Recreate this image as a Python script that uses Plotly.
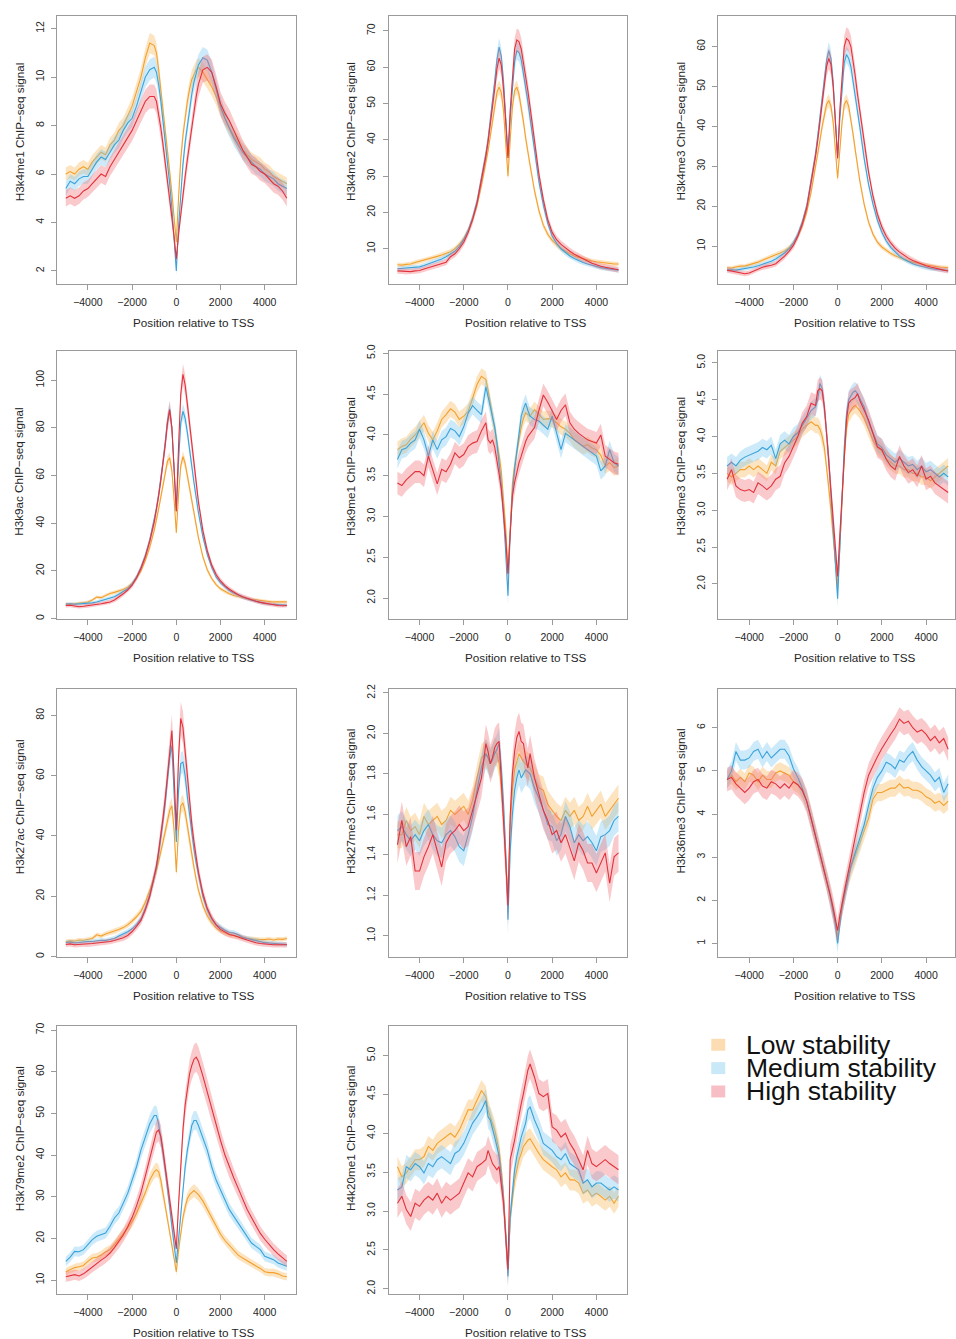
import plotly.graph_objects as go

# ---------------- positions relative to TSS (bp) ----------------
X = list(range(-5000, -1000, 200)) + list(range(-1000, 1001, 100)) + list(range(1200, 5001, 200))

SERIES_NAMES = ["Low stability", "Medium stability", "High stability"]

# ---------------- H3k4me1 ----------------
H3K4ME1_LOW = [6.0, 6.1, 6.0, 6.2, 6.3, 6.2, 6.5, 6.7, 6.9, 6.8, 7.2, 7.4, 7.8, 8.0, 8.4, 8.8, 9.4, 10.0, 10.8, 11.4,
               11.3, 11.0, 10.3, 9.5, 8.6, 7.8, 7.0, 6.1, 5.2, 4.2, 3.2, 5.0, 6.6, 7.6, 8.4, 9.0, 9.5, 9.9, 10.1, 10.3, 10.4,
               10.2, 9.9, 9.6, 9.2, 8.7, 8.3, 7.9, 7.6, 7.3, 7.0, 6.8, 6.6, 6.5, 6.4, 6.2, 6.1, 5.9, 5.8, 5.7, 5.6]
H3K4ME1_MED = [5.4, 5.7, 5.6, 5.8, 5.9, 5.9, 6.2, 6.5, 6.7, 6.6, 6.9, 7.2, 7.4, 7.8, 8.1, 8.3, 8.8, 9.4, 10.0, 10.3,
               10.4, 10.2, 9.7, 9.0, 8.2, 7.4, 6.5, 5.6, 4.6, 3.4, 2.0, 3.8, 5.3, 6.4, 7.3, 8.0, 8.7, 9.3, 9.8, 10.2, 10.5,
               10.8, 10.7, 10.2, 9.5, 8.8, 8.3, 7.9, 7.5, 7.2, 6.9, 6.7, 6.5, 6.3, 6.2, 6.0, 5.9, 5.8, 5.6, 5.5, 5.4]
H3K4ME1_HIGH = [5.0, 5.1, 5.0, 5.1, 5.3, 5.4, 5.6, 5.8, 6.0, 5.9, 6.3, 6.6, 6.9, 7.2, 7.5, 7.8, 8.2, 8.6, 9.0, 9.2,
                9.2, 9.0, 8.5, 7.9, 7.2, 6.5, 5.8, 5.0, 4.2, 3.4, 2.5, 3.5, 4.4, 5.2, 5.9, 6.6, 7.3, 8.0, 8.7, 9.2, 9.7,
                10.3, 10.4, 10.2, 9.6, 8.9, 8.5, 8.2, 7.8, 7.4, 7.0, 6.7, 6.4, 6.3, 6.1, 6.0, 5.8, 5.6, 5.5, 5.3, 5.0]

# ---------------- H3k4me2 ----------------
H3K4ME2_LOW = [5.6, 5.5, 5.7, 5.8, 6.2, 6.5, 6.8, 7.2, 7.5, 7.9, 8.3, 8.7, 9.2, 10.0, 11.2, 12.8, 15.0, 18.0, 22.0, 27.5,
               33.5, 37.0, 41.0, 45.0, 49.0, 53.0, 54.5, 53.0, 48.0, 39.0, 30.0, 40.0, 49.0, 53.5, 54.5, 52.5, 49.0, 45.0, 40.5, 36.5, 33.0,
               26.0, 20.5, 16.5, 14.0, 12.3, 11.0, 10.0, 9.3, 8.6, 8.0, 7.6, 7.2, 6.9, 6.6, 6.4, 6.2, 6.0, 5.9, 5.8, 5.8]
H3K4ME2_MED = [4.5, 4.6, 4.8, 4.9, 5.0, 5.0, 5.4, 5.8, 6.2, 6.7, 7.2, 7.8, 8.5, 9.3, 10.6, 12.5, 15.0, 18.5, 23.0, 29.0,
               36.0, 40.0, 45.0, 50.0, 56.0, 62.0, 65.5, 63.0, 56.0, 46.0, 35.5, 46.0, 55.0, 61.5, 64.5, 64.0, 62.0, 58.5, 55.0, 50.5, 46.0,
               37.0, 28.5, 22.0, 17.0, 13.5, 11.5, 10.0, 8.9, 8.0, 7.3, 6.7, 6.2, 5.8, 5.4, 5.1, 4.8, 4.6, 4.4, 4.2, 4.1]
H3K4ME2_HIGH = [3.9, 3.8, 3.7, 3.7, 3.9, 4.0, 4.4, 4.8, 5.2, 5.5, 5.8, 6.3, 7.8, 8.6, 10.0, 11.8, 14.5, 18.0, 22.5, 28.5,
                35.5, 39.5, 44.0, 49.0, 54.0, 59.5, 62.5, 60.5, 54.0, 45.0, 35.0, 48.0, 58.0, 65.0, 67.5, 67.0, 65.0, 61.5, 58.0, 53.5, 49.0,
                39.5, 30.5, 23.5, 18.0, 14.5, 12.5, 11.2, 10.2, 9.3, 8.5, 7.8, 7.2, 6.6, 6.0, 5.5, 5.2, 4.9, 4.6, 4.4, 4.2]

# ---------------- H3k4me3 ----------------
H3K4ME3_LOW = [4.6, 4.5, 4.8, 5.0, 5.0, 5.3, 5.6, 6.0, 6.5, 7.0, 7.5, 7.8, 8.3, 8.8, 9.6, 10.8, 12.5, 15.0, 18.5, 23.5,
               29.5, 33.0, 36.5, 40.0, 43.0, 45.5, 46.5, 45.0, 41.0, 34.0, 27.0, 34.0, 41.0, 45.5, 46.5, 45.0, 42.0, 38.0, 34.0, 30.0, 26.5,
               20.5, 16.0, 13.0, 11.0, 9.8, 8.9, 8.2, 7.6, 7.1, 6.7, 6.3, 6.0, 5.7, 5.5, 5.3, 5.1, 4.9, 4.8, 4.7, 4.6]
H3K4ME3_MED = [4.0, 4.1, 4.0, 4.2, 4.4, 4.5, 4.8, 5.1, 5.5, 5.9, 6.2, 6.8, 7.5, 8.3, 9.3, 10.8, 13.0, 16.0, 20.0, 26.0,
               33.0, 37.5, 42.0, 47.0, 52.0, 56.5, 59.0, 57.0, 51.0, 42.0, 32.0, 42.0, 50.0, 56.0, 58.0, 57.0, 55.0, 51.5, 48.0, 44.0, 40.0,
               32.0, 25.5, 20.5, 16.5, 13.5, 11.3, 9.7, 8.5, 7.5, 6.7, 6.1, 5.6, 5.2, 4.9, 4.6, 4.4, 4.2, 4.1, 4.0, 3.9]
H3K4ME3_HIGH = [4.0, 3.8, 3.6, 3.3, 3.1, 3.3, 3.8, 4.3, 4.7, 5.0, 5.2, 5.6, 6.5, 7.5, 8.7, 10.2, 12.5, 15.5, 19.5, 25.5,
                32.5, 36.5, 41.0, 46.0, 50.5, 55.0, 57.0, 55.5, 50.0, 41.5, 32.0, 44.0, 53.0, 60.0, 62.0, 61.5, 60.0, 56.5, 52.5, 48.0, 44.0,
                35.5, 28.5, 22.5, 18.0, 14.8, 12.5, 10.8, 9.5, 8.5, 7.7, 7.0, 6.4, 5.9, 5.4, 5.1, 4.8, 4.5, 4.2, 4.0, 3.8]

# ---------------- H3k9ac ----------------
H3K9AC_LOW = [6.2, 6.0, 6.2, 6.5, 6.8, 7.0, 7.8, 9.0, 8.8, 9.8, 10.5, 11.0, 11.5, 12.2, 13.2, 14.8, 17.0, 20.0, 24.5, 30.0,
              37.0, 41.0, 46.0, 51.0, 56.0, 61.5, 66.0, 67.5, 62.0, 50.0, 36.0, 52.0, 64.0, 68.0, 65.0, 60.0, 55.0, 49.0, 44.0, 38.5, 34.0,
              26.0, 20.5, 16.8, 14.3, 12.5, 11.3, 10.4, 9.7, 9.2, 8.8, 8.4, 8.1, 7.8, 7.5, 7.3, 7.2, 7.0, 7.0, 6.9, 7.0]
H3K9AC_MED = [6.0, 6.2, 6.0, 6.1, 6.3, 6.2, 6.6, 7.0, 7.5, 8.0, 8.5, 9.2, 10.2, 11.2, 12.5, 14.5, 17.5, 21.5, 26.5, 33.0,
              41.0, 46.0, 52.0, 58.0, 66.0, 74.0, 83.0, 88.0, 80.0, 63.0, 45.0, 66.0, 82.0, 87.0, 84.0, 78.0, 72.0, 64.0, 57.0, 50.0, 44.5,
              34.5, 27.0, 21.5, 17.5, 15.0, 13.2, 11.8, 10.7, 9.8, 9.0, 8.3, 7.7, 7.2, 6.8, 6.4, 6.1, 5.9, 5.8, 5.7, 5.6]
H3K9AC_HIGH = [5.5, 5.6, 5.3, 5.0, 5.2, 5.4, 5.7, 5.9, 6.2, 6.6, 7.0, 7.8, 9.0, 10.4, 12.0, 14.0, 17.0, 21.0, 26.0, 32.5,
               40.5, 45.5, 51.5, 58.0, 65.0, 73.0, 82.0, 87.5, 80.0, 63.0, 45.0, 72.0, 94.0, 102.5, 98.0, 90.0, 82.0, 72.0, 64.0, 56.0, 49.0,
               37.0, 28.5, 22.5, 18.5, 15.8, 13.8, 12.3, 11.0, 10.0, 9.2, 8.5, 7.9, 7.3, 6.8, 6.4, 6.0, 5.8, 5.5, 5.4, 5.5]

# ---------------- H3k9me1 ----------------
H3K9ME1_LOW = [3.82, 3.86, 3.88, 3.95, 4.00, 4.07, 4.15, 4.02, 3.94, 4.05, 4.19, 4.25, 4.32, 4.28, 4.19, 4.23, 4.29, 4.45, 4.62, 4.72,
               4.68, 4.55, 4.40, 4.20, 4.05, 3.92, 3.75, 3.55, 3.25, 2.85, 2.30, 2.95, 3.40, 3.62, 3.80, 3.95, 4.10, 4.20, 4.27, 4.25, 4.23,
               4.31, 4.25, 4.19, 4.20, 4.19, 4.15, 4.10, 4.07, 4.02, 3.94, 3.90, 3.86, 3.88, 3.84, 3.82, 3.75, 3.62, 3.66, 3.60, 3.62]
H3K9ME1_MED = [3.70, 3.82, 3.84, 3.90, 3.94, 4.07, 3.94, 3.74, 3.94, 3.82, 3.94, 3.98, 4.08, 4.05, 3.98, 4.10, 4.27, 4.36, 4.30, 4.25,
               4.59, 4.45, 4.35, 4.22, 4.10, 3.90, 3.66, 3.38, 3.05, 2.60, 2.03, 2.80, 3.29, 3.58, 3.82, 4.05, 4.23, 4.32, 4.39, 4.30, 4.23,
               4.19, 4.17, 4.12, 4.07, 4.23, 4.02, 3.82, 4.02, 3.98, 3.94, 3.90, 3.86, 3.82, 3.78, 3.74, 3.56, 3.62, 3.82, 3.66, 3.62]
H3K9ME1_HIGH = [3.41, 3.38, 3.45, 3.50, 3.55, 3.55, 3.50, 3.74, 3.58, 3.40, 3.58, 3.55, 3.64, 3.78, 3.72, 3.76, 3.86, 3.90, 3.92, 4.05,
                4.15, 3.94, 3.90, 3.94, 3.85, 3.70, 3.52, 3.33, 3.05, 2.72, 2.30, 2.85, 3.25, 3.42, 3.56, 3.66, 3.74, 3.84, 3.92, 3.98, 4.02,
                4.09, 4.30, 4.49, 4.40, 4.29, 4.19, 4.30, 4.37, 4.15, 4.07, 4.02, 3.98, 3.94, 3.92, 3.90, 4.00, 3.74, 3.70, 3.66, 3.64]

# ---------------- H3k9me3 ----------------
H3K9ME3_LOW = [3.50, 3.45, 3.50, 3.55, 3.55, 3.60, 3.55, 3.60, 3.55, 3.50, 3.65, 3.60, 3.80, 3.85, 3.90, 3.95, 4.00, 4.10, 4.15, 4.20,
               4.15, 4.15, 4.10, 4.00, 3.85, 3.60, 3.30, 3.00, 2.65, 2.30, 1.95, 2.50, 3.15, 3.70, 4.10, 4.30, 4.35, 4.40, 4.42, 4.38, 4.35,
               4.25, 4.10, 3.95, 3.85, 3.80, 3.70, 3.65, 3.60, 3.60, 3.55, 3.55, 3.50, 3.50, 3.45, 3.45, 3.40, 3.45, 3.50, 3.55, 3.60]
H3K9ME3_MED = [3.60, 3.65, 3.60, 3.68, 3.72, 3.75, 3.78, 3.80, 3.85, 3.82, 3.88, 3.70, 3.90, 3.95, 3.90, 4.00, 4.05, 4.15, 4.25, 4.35,
               4.40, 4.50, 4.72, 4.65, 4.40, 4.10, 3.70, 3.20, 2.75, 2.30, 1.80, 2.50, 3.20, 3.85, 4.30, 4.50, 4.55, 4.60, 4.62, 4.58, 4.52,
               4.40, 4.20, 4.05, 3.90, 3.85, 3.75, 3.70, 3.65, 3.70, 3.65, 3.60, 3.62, 3.55, 3.60, 3.52, 3.55, 3.50, 3.45, 3.50, 3.45]
H3K9ME3_HIGH = [3.42, 3.55, 3.33, 3.28, 3.26, 3.28, 3.24, 3.37, 3.33, 3.28, 3.33, 3.42, 3.46, 3.64, 3.73, 3.86, 4.00, 4.18, 4.27, 4.45,
                4.42, 4.62, 4.65, 4.62, 4.40, 4.04, 3.64, 3.19, 2.79, 2.43, 2.10, 2.66, 3.24, 3.82, 4.22, 4.45, 4.49, 4.51, 4.53, 4.58, 4.49,
                4.36, 4.22, 4.04, 3.86, 3.82, 3.69, 3.60, 3.55, 3.73, 3.60, 3.51, 3.55, 3.46, 3.60, 3.42, 3.46, 3.37, 3.33, 3.28, 3.24]

# ---------------- H3k27ac ----------------
H3K27AC_LOW = [5.0, 5.2, 5.1, 5.5, 5.4, 5.6, 6.0, 7.2, 6.8, 7.5, 8.0, 8.3, 9.0, 9.6, 10.5, 11.8, 13.2, 15.0, 18.0, 22.0,
               26.0, 28.5, 31.5, 34.5, 38.0, 41.5, 45.0, 48.5, 50.0, 42.0, 28.0, 42.0, 50.0, 51.0, 48.0, 43.0, 38.0, 33.5, 29.5, 25.5, 22.0,
               17.0, 13.5, 11.2, 9.5, 8.5, 7.8, 7.2, 7.0, 6.6, 6.4, 6.0, 5.9, 5.7, 5.6, 5.6, 5.8, 5.5, 5.8, 5.7, 6.0]
H3K27AC_MED = [4.6, 4.8, 4.5, 4.7, 4.8, 5.0, 5.0, 5.2, 5.4, 5.3, 5.6, 6.0, 6.8, 7.4, 8.2, 9.2, 10.6, 12.5, 16.0, 20.5,
               26.0, 29.5, 34.0, 39.0, 45.0, 51.0, 58.0, 66.0, 70.0, 55.0, 38.0, 55.0, 64.0, 64.5, 60.0, 53.0, 46.5, 41.0, 35.5, 31.0, 27.0,
               20.0, 15.5, 12.5, 10.6, 9.5, 8.7, 8.0, 7.8, 7.2, 6.4, 6.0, 5.6, 5.2, 4.9, 4.6, 4.5, 4.4, 4.2, 4.1, 4.0]
H3K27AC_HIGH = [4.0, 4.2, 3.9, 4.0, 4.1, 4.0, 4.3, 4.5, 4.6, 4.8, 5.0, 5.3, 5.8, 6.2, 7.0, 8.3, 10.0, 12.0, 15.5, 20.0,
                26.5, 30.0, 35.0, 40.0, 46.0, 52.5, 60.0, 70.0, 75.0, 60.0, 42.0, 66.0, 79.0, 76.0, 68.0, 59.0, 51.0, 44.0, 38.0, 32.5, 28.0,
                21.0, 16.0, 12.8, 10.5, 9.0, 8.0, 7.3, 7.0, 6.6, 6.0, 5.5, 5.0, 4.6, 4.3, 4.1, 4.0, 3.9, 3.9, 3.8, 3.9]

# ---------------- H3k27me3 ----------------
H3K27ME3_LOW = [1.50, 1.50, 1.57, 1.52, 1.54, 1.50, 1.59, 1.55, 1.57, 1.59, 1.55, 1.57, 1.62, 1.60, 1.62, 1.64, 1.60, 1.67, 1.78, 1.88,
                1.90, 1.88, 1.85, 1.88, 1.91, 1.90, 1.85, 1.73, 1.59, 1.36, 1.20, 1.54, 1.72, 1.82, 1.86, 1.90, 1.88, 1.86, 1.85, 1.84, 1.83,
                1.78, 1.73, 1.72, 1.65, 1.62, 1.59, 1.57, 1.62, 1.59, 1.62, 1.57, 1.59, 1.64, 1.59, 1.62, 1.65, 1.59, 1.62, 1.65, 1.68]
H3K27ME3_MED = [1.52, 1.54, 1.50, 1.47, 1.50, 1.47, 1.52, 1.55, 1.50, 1.47, 1.46, 1.50, 1.52, 1.49, 1.44, 1.42, 1.50, 1.59, 1.72, 1.83,
                1.90, 1.88, 1.85, 1.87, 1.90, 1.92, 1.95, 1.83, 1.65, 1.41, 1.08, 1.42, 1.60, 1.72, 1.78, 1.82, 1.78, 1.80, 1.82, 1.81, 1.80,
                1.73, 1.68, 1.62, 1.55, 1.54, 1.47, 1.50, 1.59, 1.54, 1.46, 1.50, 1.47, 1.49, 1.46, 1.42, 1.49, 1.50, 1.52, 1.57, 1.59]
H3K27ME3_HIGH = [1.45, 1.57, 1.44, 1.49, 1.32, 1.32, 1.39, 1.44, 1.50, 1.42, 1.34, 1.46, 1.50, 1.52, 1.55, 1.52, 1.54, 1.62, 1.70, 1.78,
                 1.95, 1.91, 1.85, 1.88, 1.93, 1.95, 1.96, 1.78, 1.59, 1.37, 1.15, 1.59, 1.80, 1.91, 1.98, 2.01, 1.96, 1.95, 1.88, 1.83, 1.90,
                 1.78, 1.70, 1.62, 1.57, 1.50, 1.52, 1.46, 1.50, 1.44, 1.37, 1.46, 1.42, 1.36, 1.36, 1.31, 1.36, 1.41, 1.26, 1.39, 1.41]

# ---------------- H3k36me3 ----------------
H3K36ME3_LOW = [4.80, 4.90, 4.75, 4.85, 4.75, 4.95, 4.90, 4.75, 4.90, 4.80, 4.80, 4.95, 5.00, 4.95, 4.90, 4.75, 4.68, 4.55, 4.30, 3.90,
                3.50, 3.30, 3.10, 2.90, 2.70, 2.48, 2.25, 2.02, 1.78, 1.50, 1.15, 1.55, 1.85, 2.10, 2.35, 2.55, 2.75, 2.90, 3.00, 3.15, 3.30,
                3.60, 3.90, 4.35, 4.50, 4.50, 4.55, 4.60, 4.60, 4.70, 4.60, 4.62, 4.55, 4.55, 4.50, 4.40, 4.35, 4.25, 4.30, 4.20, 4.30]
H3K36ME3_MED = [4.80, 5.00, 5.45, 5.25, 5.25, 5.30, 5.45, 5.50, 5.30, 5.45, 5.30, 5.40, 5.50, 5.50, 5.35, 5.05, 4.85, 4.60, 4.30, 3.90,
                3.50, 3.30, 3.10, 2.90, 2.70, 2.48, 2.25, 2.00, 1.75, 1.45, 1.00, 1.50, 1.85, 2.10, 2.35, 2.55, 2.80, 2.95, 3.10, 3.25, 3.40,
                3.75, 4.20, 4.60, 4.85, 5.00, 5.20, 5.15, 5.05, 5.25, 5.20, 5.35, 5.45, 5.25, 5.10, 5.00, 4.90, 4.75, 4.85, 4.50, 4.70]
H3K36ME3_HIGH = [4.80, 4.85, 4.70, 4.60, 4.50, 4.60, 4.75, 4.80, 4.65, 4.60, 4.75, 4.70, 4.60, 4.70, 4.60, 4.75, 4.68, 4.55, 4.30, 3.90,
                 3.50, 3.30, 3.10, 2.90, 2.70, 2.50, 2.28, 2.05, 1.82, 1.55, 1.30, 1.65, 1.95, 2.20, 2.45, 2.70, 2.95, 3.20, 3.45, 3.70, 3.95,
                 4.50, 4.90, 5.13, 5.33, 5.52, 5.70, 5.85, 6.00, 6.20, 6.10, 6.15, 6.00, 5.90, 5.95, 5.85, 5.70, 5.80, 5.65, 5.75, 5.50]

# ---------------- H3k79me2 ----------------
H3K79ME2_LOW = [12.0, 12.5, 13.0, 13.2, 13.5, 14.5, 15.3, 15.5, 16.0, 16.8, 17.3, 18.5, 19.8, 21.0, 22.5, 24.0, 26.0, 28.5, 31.0, 34.0,
                36.0, 36.5, 36.0, 34.0, 31.0, 28.0, 25.0, 22.0, 19.0, 15.5, 12.0, 17.0, 21.5, 25.0, 27.5, 29.5, 30.5, 31.0, 31.5, 31.0, 30.5,
                29.0, 27.0, 25.0, 23.0, 21.0, 19.5, 18.3, 17.0, 16.0, 15.3, 14.6, 14.0, 13.4, 12.8, 12.0, 11.8, 11.8, 11.5, 11.0, 10.8]
H3K79ME2_MED = [14.5, 15.5, 16.9, 16.8, 17.3, 18.5, 19.7, 20.5, 20.9, 21.3, 22.9, 24.9, 26.1, 28.4, 30.8, 34.0, 37.2, 41.2, 44.3, 47.5,
                49.5, 49.5, 47.5, 44.3, 40.4, 36.4, 32.4, 27.6, 22.9, 18.1, 14.1, 19.7, 26.1, 32.4, 37.2, 41.2, 44.3, 47.1, 48.3, 48.3, 47.1,
                44.3, 41.2, 37.2, 34.0, 31.6, 29.2, 26.9, 25.3, 23.7, 22.1, 20.5, 18.9, 18.1, 17.3, 15.7, 15.3, 14.9, 14.1, 13.7, 13.3]
H3K79ME2_HIGH = [10.8, 11.0, 11.3, 11.0, 11.5, 12.3, 13.2, 14.0, 14.8, 15.5, 16.5, 17.8, 19.2, 20.8, 22.8, 25.0, 27.8, 31.0, 35.0, 39.5,
                 43.5, 45.5, 46.0, 44.5, 41.0, 37.0, 33.0, 29.0, 25.0, 21.0, 17.5, 28.0, 38.0, 46.0, 52.0, 56.0, 59.5, 61.5, 63.0, 63.5, 62.5,
                 59.0, 55.0, 51.0, 47.0, 43.5, 40.0, 37.0, 34.5, 32.0, 29.5, 27.0, 25.0, 23.0, 21.2, 19.8, 18.5, 17.3, 16.3, 15.3, 14.5]

# ---------------- H4k20me1 ----------------
H4K20ME1_LOW = [3.57, 3.44, 3.49, 3.57, 3.66, 3.66, 3.70, 3.83, 3.78, 3.87, 3.91, 3.95, 4.00, 3.95, 4.04, 4.17, 4.30, 4.30, 4.42, 4.55,
                4.47, 4.30, 4.21, 4.13, 4.04, 3.91, 3.78, 3.53, 3.19, 2.72, 2.20, 2.89, 3.19, 3.40, 3.53, 3.66, 3.74, 3.83, 3.87, 3.91, 3.93,
                3.83, 3.74, 3.66, 3.61, 3.57, 3.53, 3.44, 3.49, 3.40, 3.40, 3.36, 3.23, 3.27, 3.19, 3.23, 3.19, 3.14, 3.19, 3.10, 3.19]
H4K20ME1_MED = [3.27, 3.31, 3.57, 3.53, 3.61, 3.57, 3.49, 3.61, 3.57, 3.66, 3.70, 3.66, 3.61, 3.74, 3.78, 3.87, 4.00, 4.13, 4.21, 4.30,
                4.42, 4.21, 4.17, 4.04, 3.95, 3.83, 3.70, 3.44, 3.14, 2.67, 2.16, 2.93, 3.27, 3.53, 3.70, 3.83, 3.95, 4.04, 4.13, 4.30, 4.34,
                4.17, 4.04, 3.87, 3.83, 3.78, 3.70, 3.66, 3.74, 3.61, 3.57, 3.53, 3.36, 3.40, 3.31, 3.36, 3.36, 3.31, 3.27, 3.31, 3.27]
H4K20ME1_HIGH = [3.10, 3.19, 3.02, 2.93, 3.10, 3.06, 3.14, 3.19, 3.14, 3.23, 3.10, 3.19, 3.14, 3.19, 3.23, 3.36, 3.49, 3.44, 3.57, 3.61,
                 3.66, 3.78, 3.70, 3.61, 3.57, 3.53, 3.57, 3.36, 3.10, 2.67, 2.25, 3.66, 3.78, 3.91, 4.08, 4.25, 4.38, 4.51, 4.68, 4.81, 4.89,
                 4.72, 4.51, 4.47, 4.51, 4.08, 4.04, 3.95, 4.00, 3.87, 3.78, 3.66, 3.53, 3.78, 3.61, 3.57, 3.61, 3.66, 3.61, 3.57, 3.53]

# ---------------- per-panel specification ----------------
MARKS = ["H3k4me1", "H3k4me2", "H3k4me3", "H3k9ac", "H3k9me1", "H3k9me3",
         "H3k27ac", "H3k27me3", "H3k36me3", "H3k79me2", "H4k20me1"]
SERIES = [
    [H3K4ME1_LOW, H3K4ME1_MED, H3K4ME1_HIGH],
    [H3K4ME2_LOW, H3K4ME2_MED, H3K4ME2_HIGH],
    [H3K4ME3_LOW, H3K4ME3_MED, H3K4ME3_HIGH],
    [H3K9AC_LOW, H3K9AC_MED, H3K9AC_HIGH],
    [H3K9ME1_LOW, H3K9ME1_MED, H3K9ME1_HIGH],
    [H3K9ME3_LOW, H3K9ME3_MED, H3K9ME3_HIGH],
    [H3K27AC_LOW, H3K27AC_MED, H3K27AC_HIGH],
    [H3K27ME3_LOW, H3K27ME3_MED, H3K27ME3_HIGH],
    [H3K36ME3_LOW, H3K36ME3_MED, H3K36ME3_HIGH],
    [H3K79ME2_LOW, H3K79ME2_MED, H3K79ME2_HIGH],
    [H4K20ME1_LOW, H4K20ME1_MED, H4K20ME1_HIGH],
]
Y_RANGES = [[1.45, 12.52], [0.2, 74.1], [0.44, 67.66], [-0.3, 112.3], [1.74, 5.03], [1.52, 5.16],
            [-0.25, 88.8], [0.894, 2.22], [0.68, 6.9], [6.6, 71.0], [1.93, 5.38]]
Y_TICKS = [[2, 4, 6, 8, 10, 12], [10, 20, 30, 40, 50, 60, 70], [10, 20, 30, 40, 50, 60],
           [0, 20, 40, 60, 80, 100], [2.0, 2.5, 3.0, 3.5, 4.0, 4.5, 5.0], [2.0, 2.5, 3.0, 3.5, 4.0, 4.5, 5.0],
           [0, 20, 40, 60, 80], [1.0, 1.2, 1.4, 1.6, 1.8, 2.0, 2.2], [1, 2, 3, 4, 5, 6],
           [10, 20, 30, 40, 50, 60, 70], [2.0, 2.5, 3.0, 3.5, 4.0, 4.5, 5.0]]
Y_FORMAT = ["d", "d", "d", "d", ".1f", ".1f", "d", ".1f", "d", "d", ".1f"]
X_TICKS = [-4000, -2000, 0, 2000, 4000]
# standard-error band: half width = abs + rel * value (scaled per stability group)
SE_ABS = [0.12, 0.5, 0.4, 0.5, 0.11, 0.12, 0.5, 0.075, 0.22, 0.6, 0.15]
SE_REL = [0.03, 0.03, 0.03, 0.03, 0.0, 0.0, 0.05, 0.0, 0.0, 0.035, 0.0]
SE_GROUP = [0.9, 1.0, 1.25]

for s in SERIES:
    for arr in s:
        if len(arr) != len(X):
            raise ValueError(f"bad length {len(arr)}")

# ---------------- style ----------------
LINE_COLORS = ["#F3A12E", "#3AA3DA", "#E3323B"]
BAND_COLORS = ["rgba(249,184,92,0.38)", "rgba(122,199,238,0.38)", "rgba(240,112,122,0.38)"]
LEGEND_SWATCH = ["#FCDDB3", "#C9E8F8", "#F7BFC5"]
FONT = "Liberation Sans, Arial, Helvetica, sans-serif"
AX_COLOR = "#9a9a9a"
TXT_COLOR = "#262626"

W, H = 956, 1339
COL_LEFT = [57, 389, 719]
BOX_W = 239
ROW_TOP = [9, 346, 686, 1025]
BOX_H = 270

fig = go.Figure()
layout = dict(width=W, height=H, margin=dict(l=0, r=0, t=0, b=0),
              paper_bgcolor="white", plot_bgcolor="white", showlegend=False,
              font=dict(family=FONT, color=TXT_COLOR))
annotations = []
shapes = []

for k, mark in enumerate(MARKS):
    idx = k + 1
    row, col = divmod(k, 3)
    left = COL_LEFT[col]
    right = min(left + BOX_W, W)
    top = ROW_TOP[row]
    xr_hi = -5400 + 10800 * (right - left) / BOX_W
    xa = "x" if idx == 1 else f"x{idx}"
    ya = "y" if idx == 1 else f"y{idx}"
    for g in range(3):
        vals = SERIES[k][g]
        half = [(SE_ABS[k] + SE_REL[k] * v) * SE_GROUP[g] for v in vals]
        hi = [v + h for v, h in zip(vals, half)]
        lo = [v - h for v, h in zip(vals, half)]
        fig.add_trace(go.Scatter(x=X + X[::-1], y=hi + lo[::-1], fill="toself",
                                 fillcolor=BAND_COLORS[g], line=dict(width=0),
                                 mode="lines", hoverinfo="skip", xaxis=xa, yaxis=ya))
        fig.add_trace(go.Scatter(x=X, y=vals, mode="lines", name=SERIES_NAMES[g],
                                 line=dict(color=LINE_COLORS[g], width=1.1),
                                 xaxis=xa, yaxis=ya))
    axis_common = dict(showline=True, mirror=True, linecolor=AX_COLOR, linewidth=1,
                       ticks="outside", ticklen=5, tickcolor=AX_COLOR, tickwidth=1,
                       showgrid=False, zeroline=False,
                       tickfont=dict(family=FONT, size=10.5, color=TXT_COLOR))
    layout["xaxis" if idx == 1 else f"xaxis{idx}"] = dict(
        domain=[left / W, right / W], anchor=ya, range=[-5400, xr_hi],
        tickvals=X_TICKS, ticklabelstandoff=3, **axis_common)
    layout["yaxis" if idx == 1 else f"yaxis{idx}"] = dict(
        domain=[1 - (top + BOX_H) / H, 1 - top / H], anchor=xa, range=Y_RANGES[k],
        tickvals=Y_TICKS[k], tickformat=Y_FORMAT[k], tickangle=-90,
        ticklabelstandoff=3, **axis_common)
    cx = left + BOX_W / 2
    cy = top + BOX_H / 2
    annotations.append(dict(text="Position relative to TSS", xref="paper", yref="paper",
                            x=(cx - 45.5) / W, y=1 - (top + BOX_H + 38.5) / H,
                            xanchor="left", yanchor="middle", showarrow=False,
                            font=dict(family=FONT, size=11.7, color=TXT_COLOR)))
    annotations.append(dict(text=f"{mark} ChIP\u2212seq signal", xref="paper", yref="paper",
                            x=(left - 38) / W, y=1 - (cy + 53) / H, textangle=-90,
                            xanchor="center", yanchor="bottom", showarrow=False,
                            font=dict(family=FONT, size=11.7, color=TXT_COLOR)))

# legend in the empty 12th cell
LEG_Y = [1044, 1067.5, 1091]
for g in range(3):
    shapes.append(dict(type="rect", xref="paper", yref="paper",
                       x0=712 / W, x1=726 / W, y0=1 - (LEG_Y[g] + 6) / H, y1=1 - (LEG_Y[g] - 6) / H,
                       fillcolor=LEGEND_SWATCH[g], line=dict(width=0)))
    annotations.append(dict(text=SERIES_NAMES[g], xref="paper", yref="paper",
                            x=745 / W, y=1 - LEG_Y[g] / H, xanchor="left", yanchor="middle",
                            showarrow=False, font=dict(family=FONT, size=26.5, color="#111111")))

layout["annotations"] = annotations
layout["shapes"] = shapes
fig.update_layout(**layout)
fig.write_html("out.html")
